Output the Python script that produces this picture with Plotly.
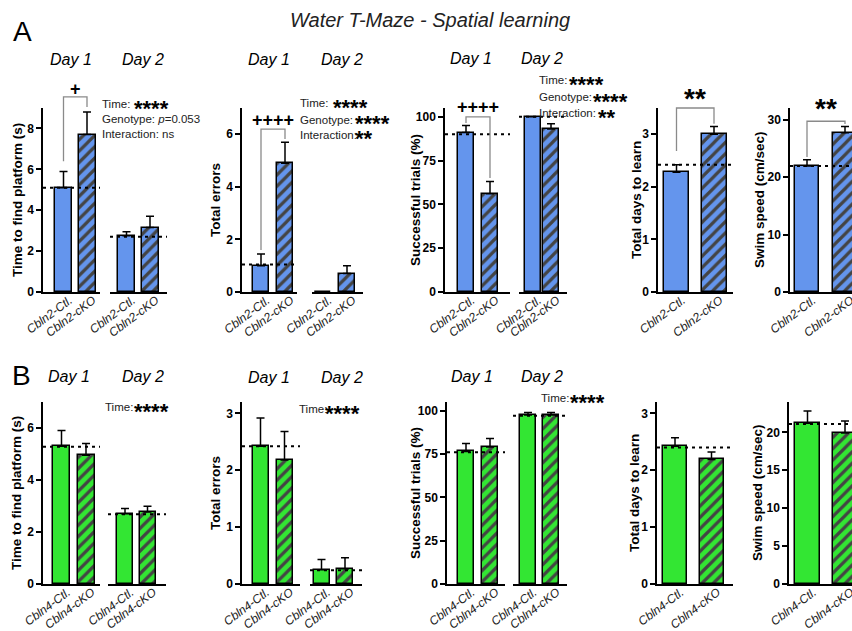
import plotly.graph_objects as go

W, H = 852, 631
BLUE = "#6495ED"
GREEN = "#33E633"
FONT = "Liberation Sans, Arial, sans-serif"

# ---------------- data ----------------
labels_A = ["Cbln2-Ctl.", "Cbln2-cKO"]
labels_B = ["Cbln4-Ctl.", "Cbln4-cKO"]

# Cbln2 (panel A)
A_time_day1 = [5.1, 7.7]
A_time_day1_sem = [0.8, 1.1]
A_time_day2 = [2.75, 3.15]
A_time_day2_sem = [0.2, 0.55]
A_time_ref = [5.1, 2.7]

A_errors_day1 = [1.0, 4.9]
A_errors_day1_sem = [0.45, 0.8]
A_errors_day2 = [0.0, 0.7]
A_errors_day2_sem = [None, 0.3]
A_errors_ref = [1.05, None]

A_success_day1 = [91, 56]
A_success_day1_sem = [4, 7]
A_success_day2 = [100, 93]
A_success_day2_sem = [0, 3]
A_success_ref = [90, 100]

A_days = [2.28, 3.0]
A_days_sem = [0.14, 0.15]
A_days_ref = [2.42]

A_speed = [21.9, 27.7]
A_speed_sem = [1.1, 1.1]
A_speed_ref = [21.9]

# Cbln4 (panel B)
B_time_day1 = [5.3, 4.95]
B_time_day1_sem = [0.6, 0.45]
B_time_day2 = [2.7, 2.77]
B_time_day2_sem = [0.2, 0.22]
B_time_ref = [5.28, 2.68]

B_errors_day1 = [2.42, 2.18]
B_errors_day1_sem = [0.5, 0.5]
B_errors_day2 = [0.25, 0.27]
B_errors_day2_sem = [0.18, 0.19]
B_errors_ref = [2.42, 0.24]

B_success_day1 = [76.5, 79]
B_success_day1_sem = [4.5, 5]
B_success_day2 = [97.5, 97.5]
B_success_day2_sem = [1.5, 1.5]
B_success_ref = [76, 97]

B_days = [2.42, 2.19]
B_days_sem = [0.15, 0.13]
B_days_ref = [2.4]

B_speed = [21.2, 19.9]
B_speed_sem = [1.6, 1.6]
B_speed_ref = [21.1]

# ---------------- chart (y-axis) definitions ----------------
charts = {
    "A1": dict(zero=292, top=108, ymax=9, ticks=[0, 2, 4, 6, 8], title="Time to find platform (s)", tx=17),
    "A2": dict(zero=292, top=108, ymax=7, ticks=[0, 2, 4, 6], title="Total errors", tx=215),
    "A3": dict(zero=292, top=108, ymax=105, ticks=[0, 25, 50, 75, 100], title="Successful trials (%)", tx=415),
    "A4": dict(zero=292, top=108, ymax=3.5, ticks=[0, 1, 2, 3], title="Total days to learn", tx=636),
    "A5": dict(zero=292, top=108, ymax=32, ticks=[0, 10, 20, 30], title="Swim speed (cm/sec)", tx=759),
    "B1": dict(zero=584, top=402, ymax=7, ticks=[0, 2, 4, 6], title="Time to find platform (s)", tx=16),
    "B2": dict(zero=584, top=402, ymax=3.2, ticks=[0, 1, 2, 3], title="Total errors", tx=215),
    "B3": dict(zero=584, top=402, ymax=105, ticks=[0, 25, 50, 75, 100], title="Successful trials (%)", tx=415),
    "B4": dict(zero=584, top=402, ymax=3.2, ticks=[0, 1, 2, 3], title="Total days to learn", tx=634),
    "B5": dict(zero=584, top=402, ymax=24, ticks=[0, 5, 10, 15, 20], title="Swim speed (cm/sec)", tx=757),
}

# subplots: chart, L, R, c0, c1, bar px, values, sem, ref, labels, color
subplots = [
    ("A1", 43, 100, 63.5, 87, 17, A_time_day1, A_time_day1_sem, A_time_ref[0], labels_A, BLUE),
    ("A1", 110, 167, 126.5, 150, 17, A_time_day2, A_time_day2_sem, A_time_ref[1], labels_A, BLUE),
    ("A2", 242, 297, 261, 285, 16, A_errors_day1, A_errors_day1_sem, A_errors_ref[0], labels_A, BLUE),
    ("A2", 312, 363, 323, 347, 16, A_errors_day2, A_errors_day2_sem, A_errors_ref[1], labels_A, BLUE),
    ("A3", 445, 510, 466, 490, 16, A_success_day1, A_success_day1_sem, A_success_ref[0], labels_A, BLUE),
    ("A3", 519, 567, 532.5, 551, 16, A_success_day2, A_success_day2_sem, A_success_ref[1], labels_A, BLUE),
    ("A4", 658, 733, 676.5, 714, 25, A_days, A_days_sem, A_days_ref[0], labels_A, BLUE),
    ("A5", 790, 852, 807, 845, 24, A_speed, A_speed_sem, A_speed_ref[0], labels_A, BLUE),
    ("B1", 43, 100, 61.5, 86, 17, B_time_day1, B_time_day1_sem, B_time_ref[0], labels_B, GREEN),
    ("B1", 108, 166, 125, 147.5, 16, B_time_day2, B_time_day2_sem, B_time_ref[1], labels_B, GREEN),
    ("B2", 242, 300, 260.5, 284.5, 16, B_errors_day1, B_errors_day1_sem, B_errors_ref[0], labels_B, GREEN),
    ("B2", 310, 362, 321.5, 345, 16, B_errors_day2, B_errors_day2_sem, B_errors_ref[1], labels_B, GREEN),
    ("B3", 447, 505, 466, 490, 16, B_success_day1, B_success_day1_sem, B_success_ref[0], labels_B, GREEN),
    ("B3", 513, 567, 528, 551, 16, B_success_day2, B_success_day2_sem, B_success_ref[1], labels_B, GREEN),
    ("B4", 657, 733, 675, 711.5, 24, B_days, B_days_sem, B_days_ref[0], labels_B, GREEN),
    ("B5", 789, 852, 807.5, 845, 25, B_speed, B_speed_sem, B_speed_ref[0], labels_B, GREEN),
]

fig = go.Figure()
layout = {}
shapes = []
annotations = []

chart_ids = {k: i + 1 for i, k in enumerate(charts)}
first_x = {}
sub_geom = []


def axname(prefix, i):
    return prefix if i == 1 else f"{prefix}{i}"


for xi, (ck, L, R, c0, c1, bpx, vals, sem, ref, labs, col) in enumerate(subplots, start=1):
    ch = charts[ck]
    yi = chart_ids[ck]
    first_x.setdefault(ck, xi)
    s = c1 - c0
    xmin = -(c0 - L) / s
    xmax = 1 + (R - c1) / s
    sub_geom.append(dict(L=L, R=R, xmin=xmin, xmax=xmax))
    layout[axname("xaxis", xi)] = dict(
        domain=[L / W, R / W], range=[xmin, xmax], anchor=axname("y", yi),
        showline=True, linecolor="black", linewidth=1.5, ticks="",
        tickvals=[0, 1], ticktext=labs, tickangle=-37, automargin=False,
        ticklabelstandoff=-5, ticklabelshift=6, ticklabeloverflow="allow",
        tickfont=dict(family=FONT, size=12, style="italic", color="#222"),
        showgrid=False, zeroline=False, fixedrange=True,
    )
    fig.add_trace(go.Bar(
        x=[0, 1], y=vals, width=bpx / s,
        xaxis=axname("x", xi), yaxis=axname("y", yi),
        marker=dict(color=[col, col],
                    pattern=dict(shape=["", "/"], fgcolor="black", fgopacity=1,
                                 size=8, solidity=0.4, fillmode="overlay"),
                    line=dict(color="black", width=1.5)),
        error_y=dict(type="data", symmetric=False, array=sem, arrayminus=[0, 0],
                     color="black", thickness=1.5, width=4),
        showlegend=False, hoverinfo="skip",
    ))
    if ref is not None:
        shapes.append(dict(type="line", xref=f"{axname('x', xi)} domain", yref=axname("y", yi),
                           x0=0, x1=1, y0=ref, y1=ref, layer="above",
                           line=dict(color="black", width=2, dash="3px,4px")))

for ck, ch in charts.items():
    yi = chart_ids[ck]
    layout[axname("yaxis", yi)] = dict(
        domain=[(H - ch["zero"]) / H, (H - ch["top"]) / H], range=[0, ch["ymax"]],
        anchor=axname("x", first_x[ck]), showline=True, linecolor="black", linewidth=1.5,
        ticks="outside", ticklen=5, tickwidth=1.5, tickcolor="black", tickvals=ch["ticks"],
        tickfont=dict(family=FONT, size=12, weight="bold", color="black"), automargin=False,
        showgrid=False, zeroline=False, fixedrange=True,
    )
    annotations.append(dict(
        text=f"<b>{ch['title']}</b>", x=ch["tx"] / W, y=1 - (ch["top"] + ch["zero"]) / 2 / H,
        xref="paper", yref="paper", textangle=-90, showarrow=False,
        xanchor="center", yanchor="middle", font=dict(family=FONT, size=13.5, color="black")))


def px_x(si, v):
    g = sub_geom[si]
    return g["L"] + (v - g["xmin"]) / (g["xmax"] - g["xmin"]) * (g["R"] - g["L"])


def px_y(ck, v):
    ch = charts[ck]
    return ch["zero"] - v / ch["ymax"] * (ch["zero"] - ch["top"])


def ptext(text, x, y, size, xanchor="left", bold=False, italic=False, color="#222"):
    annotations.append(dict(
        text=text, x=x / W, y=1 - y / H, xref="paper", yref="paper", showarrow=False,
        xanchor=xanchor, yanchor="middle",
        font=dict(family=FONT, size=size, color=color,
                  weight="bold" if bold else "normal", style="italic" if italic else "normal")))


# significance brackets: subplot index, chart, bracket level, left leg end, right leg end, label, label y px, size
brackets = [
    (0, "A1", 9.54, 6.4, 9.05, "+", 89, 18),
    (2, "A2", 6.2, 1.6, 5.82, "++++", 120, 18),
    (4, "A3", 99.9, 96.5, 65, "++++", 107, 18),
    (6, "A4", 3.5, 2.68, 3.2, "**", 99, 28),
    (7, "A5", 29.7, 23.5, 29.2, "**", 108, 28),
]
for si, ck, lvl, lb, rb, lab, ly, fs in brackets:
    x0, x1 = px_x(si, 0), px_x(si, 1)
    yl, y0b, y1b = px_y(ck, lvl), px_y(ck, lb), px_y(ck, rb)
    path = (f"M {x0 / W},{1 - y0b / H} L {x0 / W},{1 - yl / H} "
            f"L {x1 / W},{1 - yl / H} L {x1 / W},{1 - y1b / H}")
    shapes.append(dict(type="path", xref="paper", yref="paper", path=path,
                       line=dict(color="#8a8a8a", width=1.3)))
    ptext(lab, (x0 + x1) / 2, ly, fs, xanchor="center", bold=True, color="black")

# statistics text: (text, x, y, star text, star x)
stats = [
    ("Time:", 100, 104, "****", 132),
    ("Genotype: <i>p</i>=0.053", 100, 119, "", 0),
    ("Interaction: ns", 100, 134, "", 0),
    ("Time:", 298, 103, "****", 331),
    ("Genotype:", 298, 120, "****", 353),
    ("Interaction:", 298, 135, "**", 353),
    ("Time:", 537, 80, "****", 567),
    ("Genotype:", 537, 97, "****", 591),
    ("Interaction:", 537, 113, "**", 596),
    ("Time:", 103, 407, "****", 132),
    ("Time:", 297, 409, "****", 323),
    ("Time:", 539, 398, "****", 568),
]
for txt, x, y, stars, sx in stats:
    ptext(txt, x, y, 11.5)
    if stars:
        ptext(stars, sx, y + 4, 22, bold=True, color="black")

# day labels
for x, y, t in [(71, 59, "Day 1"), (143, 59, "Day 2"), (269, 59, "Day 1"), (342, 59, "Day 2"),
                (471, 58, "Day 1"), (542, 58, "Day 2"),
                (69, 376, "Day 1"), (143, 376, "Day 2"), (269, 377, "Day 1"), (342, 377, "Day 2"),
                (472, 376, "Day 1"), (542, 376, "Day 2")]:
    ptext(t, x, y, 16, xanchor="center", italic=True, color="black")

ptext("Water T-Maze - Spatial learning", 430, 20, 20, xanchor="center", italic=True, color="#222")
ptext("A", 22, 31, 28, xanchor="center", color="black")
ptext("B", 21, 375, 28, xanchor="center", color="black")

fig.update_layout(
    template="none",
    width=W, height=H, margin=dict(l=0, r=0, t=0, b=0, pad=0, autoexpand=False),
    paper_bgcolor="white", plot_bgcolor="white", bargap=0,
    shapes=shapes, annotations=annotations, showlegend=False,
    font=dict(family=FONT),
    **layout,
)

fig.write_html("out.html", post_script="document.body.style.margin='0';",
               config={"displayModeBar": False})
